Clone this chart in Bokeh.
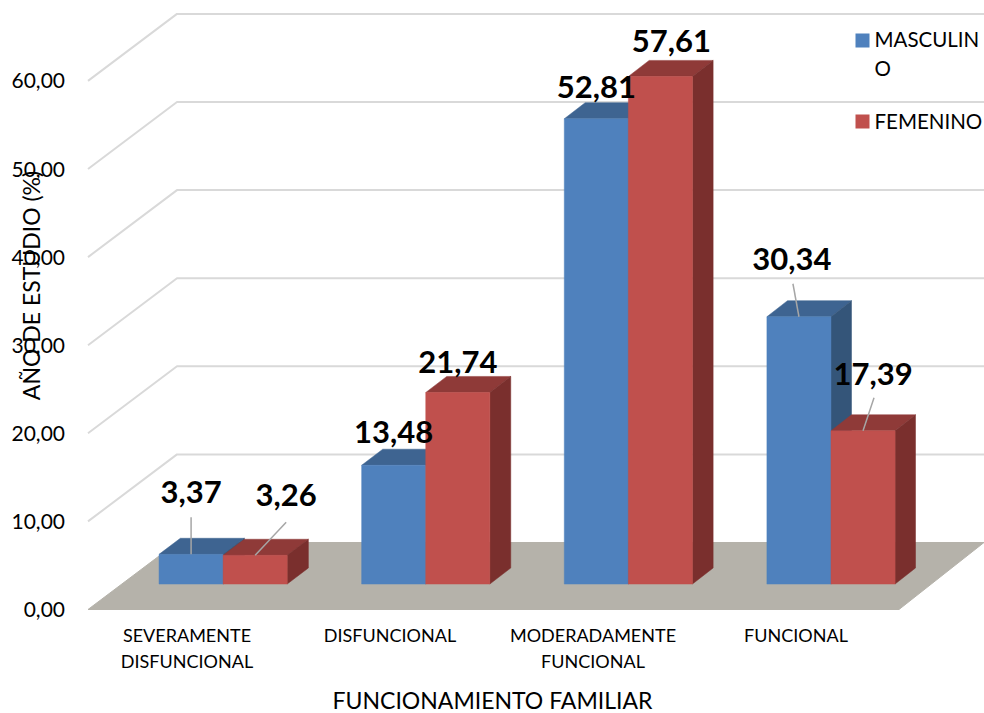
from bokeh.plotting import figure
from bokeh.embed import file_html
from bokeh.resources import INLINE
from bokeh.models import (Range1d, FixedTicker, LinearAxis, Label, ColumnDataSource)
from bokeh.core.properties import value

# ---------- data ----------
categories = ["SEVERAMENTE\nDISFUNCIONAL", "DISFUNCIONAL", "MODERADAMENTE\nFUNCIONAL", "FUNCIONAL"]
masculino = [3.37, 13.48, 52.81, 30.34]
femenino = [3.26, 21.74, 57.61, 17.39]
masculino_labels = ["3,37", "13,48", "52,81", "30,34"]
femenino_labels = ["3,26", "21,74", "57,61", "17,39"]
value_ticks = [0, 10, 20, 30, 40, 50, 60]
value_tick_labels = ["0,00", "10,00", "20,00", "30,00", "40,00", "50,00", "60,00"]

# ---------- layout / style ----------
W, H = 984, 713
LEFT, BOTTOM = 87.5, 104
PX_X = 203.0   # px per category
PX_Y = 8.81    # px per value unit
FONT = "Lato"
BLUE = ("#4F81BD", "#3E6491", "#345579")
RED = ("#C0504D", "#8F3A38", "#7A2F2D")
GRID = "#D9D9D9"
FLOOR = "#B5B2AA"

Z0, Z1 = 0.38, 0.62      # bar front / back in depth units
DEPTH_Y = 67 / PX_Y      # floor rise in value units
BAR_W = 64.2 / PX_X
LABEL_SHIFT = 2.5 / PX_X


def proj(x, v, z):
    """3D (category, value, depth) to the chart's 2D data coordinates."""
    return x + z * (89 - x) / PX_X, v + z * DEPTH_Y


def poly(points):
    xy = [proj(*pt) for pt in points]
    return [a for a, _ in xy], [b for _, b in xy]


def from_px(px, py):
    return (px - LEFT) / PX_X, (H - BOTTOM - py) / PX_Y


p = figure(width=W, height=H, output_backend="svg", toolbar_location=None,
           x_range=Range1d(-LEFT / PX_X, (W - LEFT) / PX_X), y_range=Range1d(-BOTTOM / PX_Y, (H - BOTTOM) / PX_Y),
           min_border=0, outline_line_color=None, background_fill_color="white", border_fill_color="white",
           x_axis_type=None, y_axis_type=None)
p.grid.visible = False

# wall gridlines + floor
gx, gy = [], []
for v in value_ticks[1:]:
    a, b = poly([(0, v, 0), (0, v, 1), (4.1, v, 1)])
    gx.append(a); gy.append(b)
p.multi_line(gx, gy, line_color=GRID, line_width=2)
fx, fy = poly([(0, 0, 0), (3.995, 0, 0), (3.995, 0, 1), (0, 0, 1)])
p.patch(fx, fy, fill_color=FLOOR, line_color=FLOOR, line_width=1)

# value axis, pinned to the front-left corner of the floor
yaxis = LinearAxis(ticker=FixedTicker(ticks=value_ticks), fixed_location=0,
                   major_label_overrides=dict(zip(value_ticks, value_tick_labels)),
                   axis_line_color=None, major_tick_line_color=None, minor_tick_line_color=None,
                   major_tick_out=0, major_tick_in=0, major_label_standoff=23,
                   major_label_text_font=FONT, major_label_text_font_size="21px",
                   major_label_text_color="#000000")
p.add_layout(yaxis, "left")

# category axis, pinned to the front edge of the floor
cat_pos = [i + 0.5 for i in range(len(categories))]
label_pos = [c - LABEL_SHIFT for c in cat_pos]
xaxis = LinearAxis(ticker=FixedTicker(ticks=label_pos), fixed_location=0,
                   major_label_overrides=dict(zip(label_pos, categories)),
                   axis_line_color=None, major_tick_line_color=None, minor_tick_line_color=None,
                   major_tick_out=0, major_tick_in=0, major_label_standoff=14,
                   major_label_text_font=FONT, major_label_text_font_size="18px",
                   major_label_text_color="#000000", major_label_text_line_height=1.2)
p.add_layout(xaxis, "below")


def draw_series(vals, shift, colors):
    front, top, side = colors
    xl = [c + shift for c in cat_pos]
    for x, v in zip(xl, vals):
        a, b = poly([(x, v, Z0), (x + BAR_W, v, Z0), (x + BAR_W, v, Z1), (x, v, Z1)])
        p.patch(a, b, fill_color=top, line_color=top, line_width=0.5)
        a, b = poly([(x + BAR_W, 0, Z0), (x + BAR_W, v, Z0), (x + BAR_W, v, Z1), (x + BAR_W, 0, Z1)])
        p.patch(a, b, fill_color=side, line_color=side, line_width=0.5)
    bottoms = [proj(x, 0, Z0) for x in xl]
    tops = [proj(x, v, Z0) for x, v in zip(xl, vals)]
    rights = [proj(x + BAR_W, 0, Z0)[0] for x in xl]
    return p.quad(left=[b[0] for b in bottoms], right=rights, bottom=[b[1] for b in bottoms],
                  top=[t[1] for t in tops], fill_color=front, line_color=front, line_width=0.5)


draw_series(masculino, -BAR_W, BLUE)
draw_series(femenino, 0, RED)

# leader lines for the short bars
mx = [proj(c - BAR_W / 2, v, Z0) for c, v in zip(cat_pos, masculino)]
fx2 = [proj(c + BAR_W / 2, v, Z0) for c, v in zip(cat_pos, femenino)]
anchors = mx + fx2
lead = [(anchors[0], 0, -37), (anchors[3], -6, -33), (anchors[4], 31, -33), (anchors[7], 11, -33)]
lx, ly = [], []
for (ax, ay), dx, dy in lead:
    lx.append([ax, ax + dx / PX_X])
    ly.append([ay, ay - dy / PX_Y])
p.multi_line(lx, ly, line_color="#A6A6A6", line_width=1.5)

# data labels: anchored on each bar's front-top centre, nudged in pixels
label_text = masculino_labels + femenino_labels
off_x = [0, 0, 0, -7, 31, 0, 11, 10]
off_y = [-62, -33, -32, -58, -60, -31, -35, -57]
src = ColumnDataSource(dict(x=[a[0] for a in anchors], y=[a[1] for a in anchors],
                            t=label_text, ox=off_x, oy=off_y))
p.text(x="x", y="y", text="t", source=src, x_offset="ox", y_offset="oy",
       text_font=value(FONT), text_font_style="bold", text_font_size="31px",
       text_align="center", text_baseline="middle", text_color="#000000")

# axis titles
p.add_layout(Label(x=30, y=H - 285, x_units="screen", y_units="screen", text="AÑO DE ESTUDIO (%)",
                   angle=90, angle_units="deg", text_align="center", text_baseline="middle",
                   text_font=FONT, text_font_size="23px", text_color="#000000"))
p.add_layout(Label(x=492, y=H - 699, x_units="screen", y_units="screen", text="FUNCIONAMIENTO FAMILIAR",
                   text_align="center", text_baseline="middle",
                   text_font=FONT, text_font_size="23px", text_color="#000000"))

# legend
leg_x, leg_y = zip(from_px(862, 40), from_px(862, 121))
p.scatter(x=[leg_x[0]], y=[leg_y[0]], marker="square", size=14, fill_color=BLUE[0], line_color=None)
p.scatter(x=[leg_x[1]], y=[leg_y[1]], marker="square", size=14, fill_color=RED[0], line_color=None)
p.text(x=[leg_x[0]], y=[leg_y[0]], text=["MASCULIN\nO"], x_offset=[12], y_offset=[-14],
       text_font=value(FONT), text_font_size="20.5px", text_align="left", text_baseline="top",
       text_line_height=1.22, text_color="#000000")
p.text(x=[leg_x[1]], y=[leg_y[1]], text=["FEMENINO"], x_offset=[12], y_offset=[-1],
       text_font=value(FONT), text_font_size="20.5px", text_align="left", text_baseline="middle",
       text_color="#000000")

open("out.html", "w").write(file_html(p, INLINE))
